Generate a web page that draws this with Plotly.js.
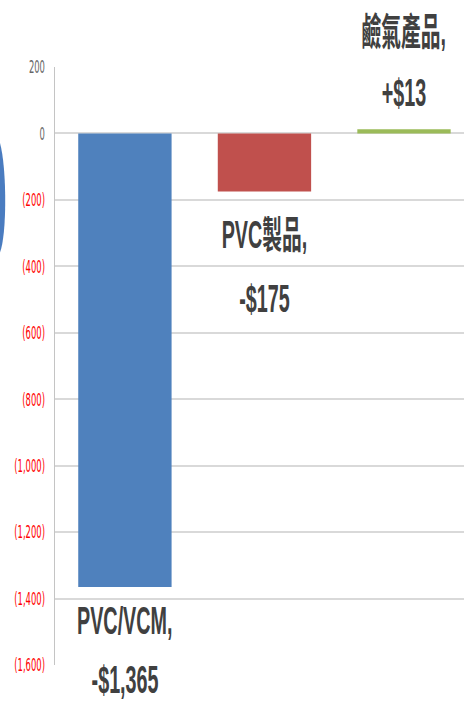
<!DOCTYPE html>
<html>
<head>
<meta charset="utf-8">
<script src="https://cdn.plot.ly/plotly-3.0.1.min.js"></script>
<style>
  html, body { margin: 0; padding: 0; overflow: hidden; background: #fff; }
  #chart { width: 892px; height: 705px; transform-origin: 0 0; }
</style>
</head>
<body>
<div id="chart"></div>
<script>
// ---- data ----
var categories = ['PVC/VCM', 'PVC製品', '鹼氣產品'];
var values = [-1365, -175, 13];
var nameLabels = ['PVC/VCM,', 'PVC製品,', '鹼氣產品,'];
var valueLabels = ['-$1,365', '-$175', '+$13'];
var tickVals = [200, 0, -200, -400, -600, -800, -1000, -1200, -1400, -1600];
var tickLabels = ['200', '0', '(200)', '(400)', '(600)', '(800)', '(1,000)', '(1,200)', '(1,400)', '(1,600)'];

// ---- styling ----
var barColors = ['#4f81bd', '#c0504d', '#9bbb59'];
var nameShift = [-34, -43, 97];
var valueShift = [-93, -107, 36];
var squash = 464 / 892;
var plotLeft = 106 / 892;

var tickText = tickVals.map(function (v, i) {
  var c = v < 0 ? '#ff0000' : '#666666';
  return '<span style="color:' + c + '">' + tickLabels[i] + '</span>';
});

var labelFont = { family: 'Liberation Sans, Arial, "Noto Sans CJK TC", sans-serif', size: 38, color: '#404040', weight: 'bold' };

var annotations = [];
categories.forEach(function (c, i) {
  annotations.push({ x: c, y: values[i], xref: 'x', yref: 'y', text: '<b>' + nameLabels[i] + '</b>',
    showarrow: false, xanchor: 'center', yanchor: 'middle', yshift: nameShift[i], font: labelFont });
  annotations.push({ x: c, y: values[i], xref: 'x', yref: 'y', text: '<b>' + valueLabels[i] + '</b>',
    showarrow: false, xanchor: 'center', yanchor: 'middle', yshift: valueShift[i], font: labelFont });
});

var trace = {
  type: 'bar',
  x: categories,
  y: values,
  width: 0.669,
  marker: { color: barColors, line: { width: 0 } },
  hoverinfo: 'skip'
};

var layout = {
  width: 892,
  height: 705,
  margin: { l: 0, r: 0, t: 67, b: 40, pad: 0 },
  paper_bgcolor: '#ffffff',
  plot_bgcolor: '#ffffff',
  showlegend: false,
  font: { family: 'Liberation Sans, Arial, sans-serif' },
  xaxis: {
    type: 'category',
    domain: [plotLeft, 1],
    range: [-0.5, 2.43],
    showticklabels: false,
    showgrid: false,
    zeroline: false,
    showline: false,
    ticks: ''
  },
  yaxis: {
    anchor: 'x',
    range: [-1600, 200],
    tickmode: 'array',
    tickvals: tickVals,
    ticktext: tickText,
    tickfont: { family: '"Liberation Sans Narrow", "Arial Narrow", "DejaVu Sans Condensed", sans-serif', size: 18, color: '#666666' },
    ticks: '',
    ticklabelstandoff: 13,
    showgrid: true,
    gridcolor: '#d9d9d9',
    gridwidth: 2,
    zeroline: true,
    zerolinecolor: '#d9d9d9',
    zerolinewidth: 2,
    showline: true,
    linecolor: '#c4c4c4',
    linewidth: 3
  },
  shapes: [
    { type: 'path', xref: 'paper', yref: 'paper',
      path: 'M 0,0.873 C 0.015,0.83 0.015,0.72 0,0.69 Z',
      fillcolor: '#4a7cc0', line: { width: 0 }, layer: 'above' }
  ],
  annotations: annotations
};

Plotly.newPlot('chart', [trace], layout, { staticPlot: true, displayModeBar: false }).then(function () {
  document.getElementById('chart').style.transform = 'scaleX(' + squash + ')';
});
</script>
</body>
</html>
